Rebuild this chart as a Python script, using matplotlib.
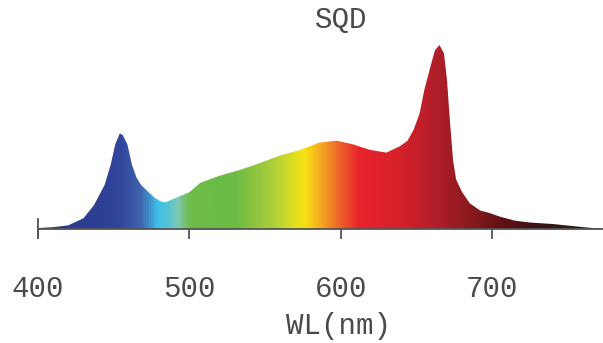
import numpy as np
import matplotlib
matplotlib.use('Agg')
import matplotlib.pyplot as plt
from matplotlib.colors import LinearSegmentedColormap, Normalize

# spectrum (relative intensity, red peak = 1)
wavelength = [400, 410, 420, 430, 437, 444, 448, 451, 454, 456, 459, 462, 465,
              468, 473, 477, 481, 484, 487, 494, 500, 507, 520, 533, 547, 560,
              573, 586, 597, 608, 619, 630, 639, 644, 648, 652, 655, 659, 662,
              665, 668, 670, 672, 674, 676, 680, 685, 692, 698, 705, 715, 725,
              740, 760, 773]
intensity = [0.005, 0.01, 0.02, 0.058, 0.13, 0.24, 0.35, 0.46, 0.52, 0.51, 0.46,
             0.35, 0.28, 0.24, 0.20, 0.17, 0.15, 0.145, 0.155, 0.18, 0.20, 0.25,
             0.29, 0.32, 0.36, 0.40, 0.43, 0.47, 0.48, 0.46, 0.43, 0.415, 0.45,
             0.48, 0.54, 0.63, 0.755, 0.88, 0.97, 1.0, 0.955, 0.81, 0.58, 0.375,
             0.27, 0.20, 0.14, 0.10, 0.087, 0.067, 0.045, 0.035, 0.027, 0.01, 0.0]
ticks = [400, 500, 600, 700]

# colour of the fill along the wavelength axis
color_nodes = [(400, '#2b3990'), (440, '#2e3f94'), (455, '#33479e'),
               (468, '#4166b0'), (478, '#3dbde8'), (485, '#55c4d8'),
               (492, '#7fc8b0'), (500, '#6cbd48'), (530, '#6cbb45'),
               (555, '#acce3a'), (570, '#e4e020'), (576, '#f7e214'),
               (587, '#f5a720'), (598, '#ee6a2a'), (612, '#e8232b'),
               (638, '#d8212b'), (660, '#b61f2a'), (686, '#8a1a1e'),
               (708, '#5e1013'), (730, '#3a1414'), (773, '#2a2020')]
lo, hi = 400, 773
cmap = LinearSegmentedColormap.from_list(
    'spec', [((w - lo) / (hi - lo), c) for w, c in color_nodes])

fig = plt.figure(figsize=(6.03, 3.43), dpi=100)
ax = fig.add_axes([38 / 603, 1 - 229 / 343, 1 - 38 / 603, 184 / 343])

poly = ax.fill_between(wavelength, intensity, 0, color='none', lw=0)
grad = np.linspace(lo, hi, 800).reshape(1, -1)
img = ax.imshow(grad, extent=[lo, hi, 0, 1], aspect='auto', cmap=cmap,
                norm=Normalize(lo, hi), origin='lower', zorder=1)
img.set_clip_path(poly.get_paths()[0], transform=ax.transData)

ax.set_xlim(lo, hi)
ax.set_ylim(0, 1)
for s in ['left', 'top', 'right']:
    ax.spines[s].set_visible(False)
ax.spines['bottom'].set_color('#555555')
ax.spines['bottom'].set_linewidth(1.3)
ax.set_yticks([])
ax.set_xticks(ticks)
ax.tick_params(axis='x', direction='out', length=7, width=1.3, color='#555555',
               pad=26, labelsize=21, labelcolor='#4a4a4a')
for lab in ax.get_xticklabels():
    lab.set_family('Liberation Mono')
ax.axvline(lo, ymin=-0.05, ymax=0.055, color='#555555', lw=1.3, clip_on=False)

fig.text(341 / 603, 1 - 20 / 343, 'SQD', family='Liberation Mono', fontsize=21,
         color='#4a4a4a', ha='center', va='center')
fig.text(338 / 603, 1 - 326 / 343, 'WL(nm)', family='Liberation Mono',
         fontsize=21, color='#4a4a4a', ha='center', va='center')

fig.savefig('out.png', dpi=100)
